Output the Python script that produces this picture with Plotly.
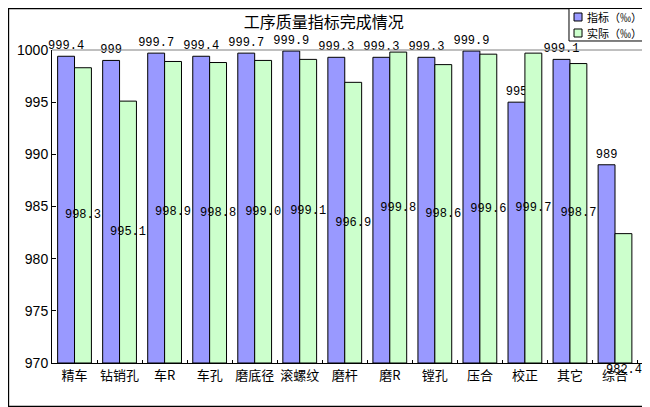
import plotly.graph_objects as go

# categories / series
processes = ['精车', '钻销孔', '车R', '车孔', '磨底径', '滚螺纹', '磨杆',
             '磨R', '镗孔', '压合', '校正', '其它', '综合']
target = [999.4, 999, 999.7, 999.4, 999.7, 999.9, 999.3,
          999.3, 999.3, 999.9, 995, 999.1, 989]
actual = [998.3, 995.1, 998.9, 998.8, 999.0, 999.1, 996.9,
          999.8, 998.6, 999.6, 999.7, 998.7, 982.4]
target_text = ['999.4', '999', '999.7', '999.4', '999.7', '999.9', '999.3',
               '999.3', '999.3', '999.9', '995', '999.1', '989']
actual_text = ['%.1f' % v for v in actual]
series_names = ['指标（‰）', '实际（‰）']
series_colors = ['#9999FF', '#CCFFCC']

y_min = 970
y_max = 1000

label_font = dict(family='Liberation Mono, DejaVu Sans Mono', size=12, color='black')

fig = go.Figure()
fig.add_trace(go.Bar(
    x=processes, y=[v - y_min for v in target], base=y_min,
    name=series_names[0],
    marker=dict(color=series_colors[0], line=dict(color='black', width=1)),
    text=target_text, textposition='outside', textangle=0,
    constraintext='none', cliponaxis=False, textfont=label_font,
))
fig.add_trace(go.Bar(
    x=processes, y=[v - y_min for v in actual], base=y_min,
    name=series_names[1],
    marker=dict(color=series_colors[1], line=dict(color='black', width=1)),
    text=actual_text[:-1] + [''], textposition='inside', insidetextanchor='middle',
    textangle=0, constraintext='none', cliponaxis=False, textfont=label_font,
))

# last label sits below the axis in the original
fig.add_annotation(x=processes[-1], y=y_min, text=actual_text[-1], showarrow=False,
                   yanchor='top', xshift=9, yshift=2, font=label_font)

# small boxed legend in the top-right corner (plotly's own is too tall here)
shapes = [
    dict(type='rect', xref='paper', yref='paper', x0=0.8733, x1=1.0034,
         y0=1.0288, y1=1.1326, line=dict(color='black', width=1), fillcolor='white'),
]
rows_y = [(1.0927, 1.1182), (1.0415, 1.0671)]
for name, color, (y0, y1) in zip(series_names, series_colors, rows_y):
    shapes.append(dict(type='rect', xref='paper', yref='paper', x0=0.8818, x1=0.8953,
                       y0=y0, y1=y1, line=dict(color='black', width=1), fillcolor=color))
    fig.add_annotation(xref='paper', yref='paper', x=0.9003, y=(y0 + y1) / 2,
                       text=name, showarrow=False, xanchor='left', yanchor='middle',
                       font=dict(size=11, family='Noto Sans CJK SC'))

shapes += [
    # gray plot-area frame on top and right
    dict(type='line', xref='paper', yref='paper', x0=0, x1=1, y0=1, y1=1,
         line=dict(color='#808080', width=1)),
    dict(type='line', xref='paper', yref='paper', x0=1, x1=1, y0=0, y1=1,
         line=dict(color='#808080', width=1)),
    # outer chart border
    dict(type='rect', xref='paper', yref='paper', x0=-0.0736, x1=1.011,
         y0=-0.139, y1=1.1326, line=dict(color='black', width=1.5), layer='below'),
]

# page body adds an 8px offset, so the figure is a bit smaller than the window
fig.update_layout(
    width=642, height=399,
    margin=dict(l=44, r=6, t=42, b=44, autoexpand=False),
    paper_bgcolor='white', plot_bgcolor='white',
    font=dict(family='Noto Sans CJK SC', color='black'),
    title=dict(text='工序质量指标完成情况', x=0.492, xanchor='center', y=0.965,
               yanchor='middle', font=dict(size=16, family='Noto Sans CJK SC')),
    barmode='group', bargap=0.25, bargroupgap=0,
    showlegend=False,
    xaxis=dict(showline=True, linecolor='black', linewidth=1, mirror=False,
               ticks='inside', ticklen=3, tickcolor='black', tickangle=0,
               tickson='boundaries', tickfont=dict(size=13, family='Noto Sans CJK SC')),
    yaxis=dict(range=[y_min, y_max], dtick=5, showgrid=False, zeroline=False,
               showline=True, linecolor='black', linewidth=1,
               ticks='inside', ticklen=4, tickcolor='black',
               tickfont=dict(size=14, family='Liberation Sans')),
    shapes=shapes,
)

fig.write_html("out.html")
